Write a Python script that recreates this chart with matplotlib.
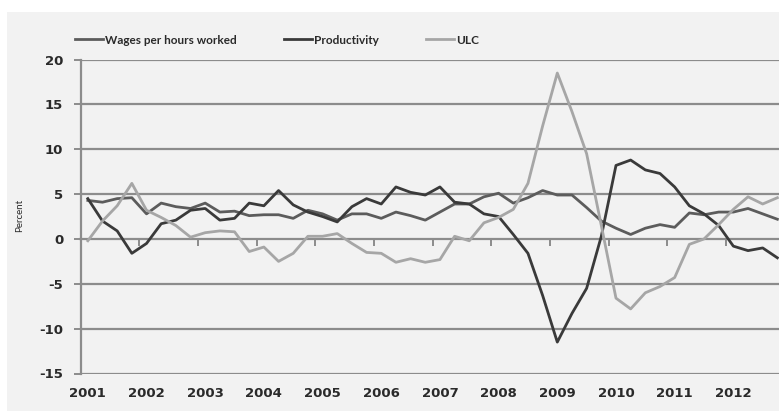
import matplotlib
matplotlib.use("Agg")
import matplotlib.pyplot as plt
from matplotlib.patches import Rectangle
import numpy as np

years = [str(y) for y in range(2001, 2013)]
quarters_per_year = 4

wages = [4.3, 4.1, 4.5, 4.6, 2.8, 4.0, 3.6, 3.4,
         4.0, 3.0, 3.1, 2.6, 2.7, 2.7, 2.3, 3.2,
         2.8, 2.1, 2.8, 2.8, 2.3, 3.0, 2.6, 2.1,
         3.0, 3.9, 3.9, 4.7, 5.1, 4.0, 4.6, 5.4,
         4.9, 4.9, 3.5, 2.0, 1.2, 0.5, 1.2, 1.6,
         1.3, 2.9, 2.7, 3.0, 3.0, 3.4, 2.8, 2.2]

productivity = [4.5, 2.0, 0.9, -1.6, -0.5, 1.7, 2.1, 3.2,
                3.4, 2.1, 2.3, 4.0, 3.7, 5.4, 3.8, 3.0,
                2.5, 1.9, 3.6, 4.5, 3.9, 5.8, 5.2, 4.9,
                5.8, 4.1, 3.9, 2.8, 2.5, 0.5, -1.6, -6.3,
                -11.5, -8.3, -5.5, 0.3, 8.2, 8.8, 7.7, 7.3,
                5.8, 3.7, 2.8, 1.5, -0.8, -1.3, -1.0, -2.1]

ulc = [-0.2, 2.0, 3.7, 6.2, 3.2, 2.4, 1.5, 0.2,
       0.7, 0.9, 0.8, -1.4, -0.9, -2.5, -1.6, 0.3,
       0.3, 0.6, -0.5, -1.5, -1.6, -2.6, -2.2, -2.6,
       -2.3, 0.3, -0.2, 1.8, 2.4, 3.3, 6.2, 12.6,
       18.5, 14.2, 9.5, 1.5, -6.6, -7.8, -6.0, -5.3,
       -4.3, -0.6, 0.0, 1.6, 3.3, 4.7, 3.9, 4.6]

series_names = ["Wages per hours worked", "Productivity", "ULC"]
series_colors = ["#5c5c5c", "#3a3a3a", "#a6a6a6"]

yticks = [-15, -10, -5, 0, 5, 10, 15, 20]

plt.rcParams["font.family"] = ["Lato", "DejaVu Sans"]

W, H = 779, 418
fig = plt.figure(figsize=(W / 100, H / 100), dpi=100)
fig.patch.set_facecolor("white")
# grey chart area
bg = Rectangle((7 / W, 1 - 411 / H), (W - 7) / W, (411 - 12) / H,
               transform=fig.transFigure, facecolor="#f2f2f2",
               edgecolor="none", zorder=-10)
fig.patches.append(bg)

ax = fig.add_axes([80.5 / W, 1 - 373.5 / H, 704.2 / W, (373.5 - 59.6) / H])
ax.set_zorder(1)
ax.patch.set_visible(False)

n = len(wages)
x = np.arange(n)
grid_col = "#8c8c8c"
for yv in yticks:
    if yv != 0:
        ax.axhline(yv, color=grid_col, lw=1.6, zorder=1)

for data, name, col in zip([wages, productivity, ulc], series_names, series_colors):
    ax.plot(x, data, color=col, lw=2.0, label=name, zorder=3)

ax.set_xlim(-0.5, n - 0.5)
ax.set_ylim(-15, 20)

for s in ["top", "right", "bottom"]:
    ax.spines[s].set_visible(False)
ax.spines["left"].set_color(grid_col)
ax.spines["left"].set_linewidth(1.6)

tick_font = {"family": "DejaVu Sans", "weight": "bold", "size": 9.5}

ax.set_yticks(yticks)
ax.set_yticklabels([str(v) for v in yticks], fontdict=tick_font)
ax.tick_params(axis="y", direction="out", length=5, width=1.4, color=grid_col,
               pad=7.5, labelcolor="#2a2a2a")

ax.set_xticks(np.arange(0, n, quarters_per_year))
ax.set_xticklabels(years, fontdict=tick_font)
ax.tick_params(axis="x", length=0, pad=10, labelcolor="#2a2a2a")

# horizontal axis crossing at zero with tick marks between categories
sec = ax.secondary_xaxis(15 / 35)
sec.spines["bottom"].set_color(grid_col)
sec.spines["bottom"].set_linewidth(1.6)
sec.set_xticks(np.arange(quarters_per_year - 0.5, n, quarters_per_year))
sec.tick_params(axis="x", direction="out", length=5, width=1.4, color=grid_col,
                labelbottom=False)

fig.text(20 / W, 1 - 215 / H, "Percent", rotation=90, ha="center", va="center",
         fontsize=7, color="#2a2a2a")

leg = fig.legend(loc="center", bbox_to_anchor=(277 / W, 1 - 40 / H), ncol=3,
                 frameon=False, handlelength=2.4, handletextpad=0.15,
                 columnspacing=4.0, prop={"family": ["Lato", "DejaVu Sans"],
                                          "weight": "bold", "size": 8.5})
for t in leg.get_texts():
    t.set_color("#2a2a2a")

fig.savefig("out.png", dpi=100)
